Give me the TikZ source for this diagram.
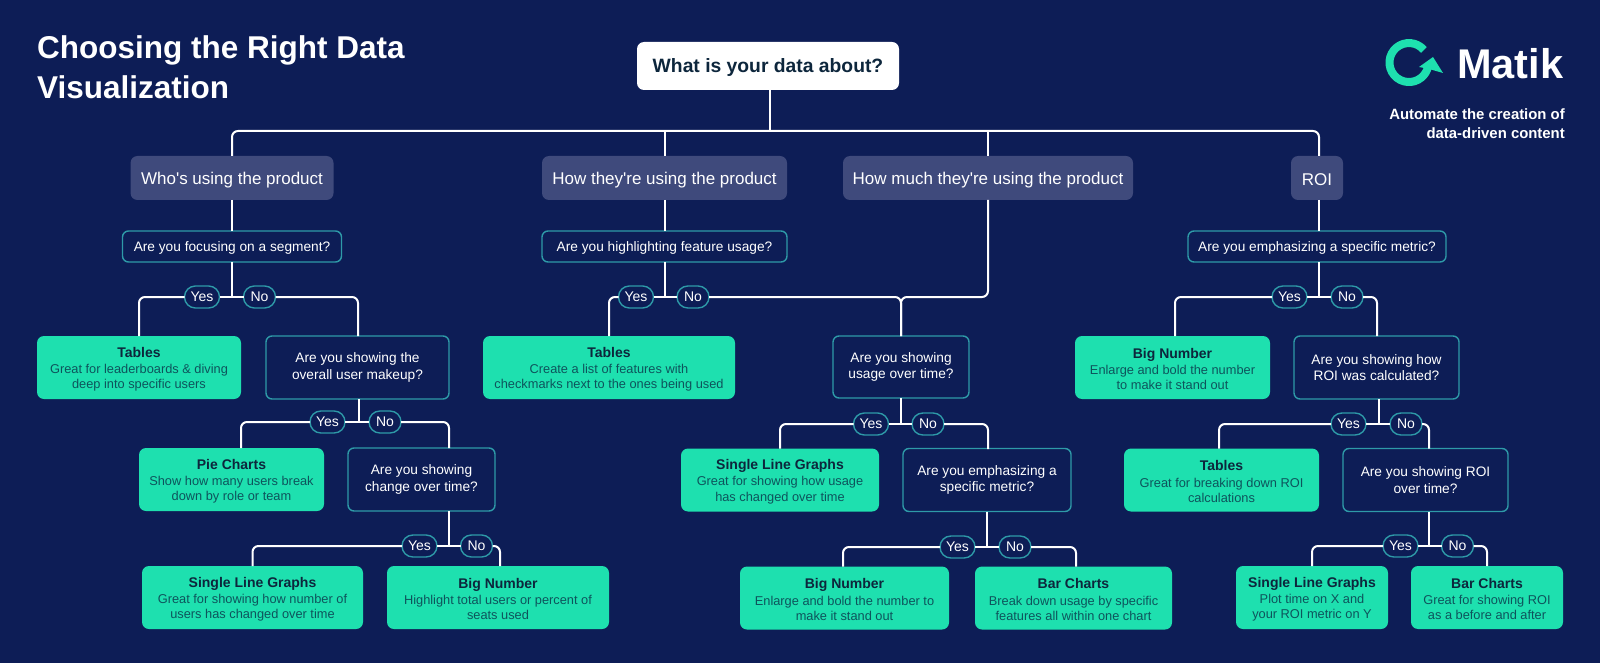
\documentclass[tikz,border=0pt]{standalone}
\usepackage{fontspec}
\setmainfont{Liberation Sans}
\begin{document}
\begin{tikzpicture}[x=1pt,y=-1pt,line join=round]
	\definecolor{navyblue}{RGB}{13,29,86}
	\definecolor{slateblue}{RGB}{63,74,124}
	\definecolor{mintgreen}{RGB}{30,224,175}
	\definecolor{tealline}{RGB}{46,154,168}
	\definecolor{darkink}{RGB}{13,38,60}
	\definecolor{tealink}{RGB}{14,84,92}
	\def\hd#1{{\fontsize{14}{17}\selectfont\bfseries\color{darkink}\rule{0pt}{13.5pt}#1}\\[1pt]}
	\tikzset{
		link/.style={draw=white,line width=2pt,rounded corners=6pt},
		rootbox/.style={fill=white,text=darkink,rounded corners=7pt,outer sep=0pt,execute at begin node={\rule{0pt}{18pt}},font=\fontsize{19.3}{24}\selectfont\bfseries},
		topic/.style={fill=slateblue,text=white,rounded corners=7pt,outer sep=0pt,minimum height=44pt,execute at begin node={\rule{0pt}{16pt}},font=\fontsize{17}{20}\selectfont},
		ask/.style={draw=tealline,line width=1.4pt,fill=navyblue,text=white,rounded corners=6pt,outer sep=0pt,align=center,execute at begin node={\rule{0pt}{13.5pt}},font=\fontsize{13.7}{16.5}\selectfont},
		answer/.style={fill=mintgreen,text=tealink,rounded corners=7pt,outer sep=0pt,align=center,minimum height=63pt,font=\fontsize{12.8}{15.2}\selectfont},
		pill/.style={draw=tealline,line width=1.4pt,fill=navyblue,text=white,rounded corners=10.9pt,outer sep=0pt,inner sep=0pt,minimum height=22pt,font=\fontsize{14}{16}\selectfont},
		yes/.style={pill,minimum width=35pt},
		no/.style={pill,minimum width=32pt}
	}
	\fill[navyblue] (0,0) rectangle (1600,663);
	
	%%%%%%%%%%%%%%%%%% heading and logo
	\node[anchor=north west,inner sep=0pt,align=left,text=white,font=\fontsize{31.5}{40}\selectfont\bfseries] (headline) at (37,35.5) {Choosing the Right Data\\Visualization};
	\draw[mintgreen,line width=8pt] (1423.9,50) arc[start angle=40,end angle=345,radius=19.5pt];
	\fill[mintgreen] (1419,67)--(1433,57)--(1443,73)--(1429,69)--cycle;
	\node[anchor=base west,inner sep=0pt,text=white,font=\fontsize{41.5}{46}\selectfont\bfseries] (brand) at (1457,79) {Matik};
	\node[anchor=north east,inner sep=0pt,align=right,text=white,font=\fontsize{14.9}{19}\selectfont\bfseries] (slogan) at (1565,109) {Automate the creation of\\data-driven content};
	
	%%%%%%%%%%%%%%%%%% first rows
	\node[rootbox,minimum width=262pt,minimum height=48pt] (root) at (768,66) {What is your data about?};
	\node[topic,minimum width=203pt] (who) at (232,178) {Who\textquotesingle s using the product};
	\node[topic,minimum width=245pt] (how) at (664.5,178) {How they\textquotesingle re using the product};
	\node[topic,minimum width=290pt] (much) at (988,178) {How much they\textquotesingle re using the product};
	\node[topic,minimum width=52pt] (roi) at (1317,178) {ROI};
	\coordinate (bus) at (770,131);
	\coordinate (dropRoi) at (1319,156);
	\draw[link] (root.south -| bus)--(bus);
	\draw[link] (who.north) |- (bus) -| (dropRoi);
	\draw[link] (how.north) -- (how.north |- bus);
	\draw[link] (much.north) -- (much.north |- bus);
	
	%%%%%%%%%%%%%%%%%% who
	\node[ask,minimum width=219pt,minimum height=31pt] (askSegment) at (232,246.5) {Are you focusing on a segment?};
	\draw[link] (who.south)--(askSegment.north);
	\node[yes] (yesSegment) at (202,297) {Yes};
	\node[no] (noSegment) at (259.5,297) {No};
	\coordinate (forkSegment) at (232,297);
	\draw[link] (askSegment.south)--(forkSegment);
	\draw[link] (yesSegment.east)--(noSegment.west);
	\node[answer,minimum width=204pt] (tablesUsers) at (139,367.5) {\hd{Tables}Great for leaderboards \& diving\\deep into specific users};
	\node[ask,minimum width=183pt,minimum height=63pt] (askMakeup) at (357.5,367.5) {Are you showing the\\overall user makeup?};
	\coordinate (dropMakeup) at (358,336);
	\draw[link] (yesSegment.west) -| (tablesUsers.north);
	\draw[link] (noSegment.east) -| (dropMakeup);
	
	\node[yes] (yesMakeup) at (327.5,422) {Yes};
	\node[no] (noMakeup) at (385,422) {No};
	\coordinate (forkMakeup) at (359,422);
	\draw[link] (askMakeup.south -| forkMakeup)--(forkMakeup);
	\draw[link] (yesMakeup.east)--(noMakeup.west);
	\node[answer,minimum width=185pt] (pie) at (231.5,479.5) {\hd{Pie Charts}Show how many users break\\down by role or team};
	\node[ask,minimum width=147pt,minimum height=63pt] (askChange) at (421.5,479.5) {Are you showing\\change over time?};
	\coordinate (dropPie) at (241,448);
	\coordinate (dropChange) at (449,448);
	\draw[link] (yesMakeup.west) -| (dropPie);
	\draw[link] (noMakeup.east) -| (dropChange);
	
	\node[yes] (yesChange) at (419.5,546) {Yes};
	\node[no] (noChange) at (476.5,546) {No};
	\coordinate (forkChange) at (449,546);
	\draw[link] (askChange.south -| forkChange)--(forkChange);
	\draw[link] (yesChange.east)--(noChange.west);
	\node[answer,minimum width=221pt] (singleUsers) at (252.5,597.5) {\hd{Single Line Graphs}Great for showing how number of\\users has changed over time};
	\node[answer,minimum width=222pt] (bigUsers) at (498,597.5) {\hd{Big Number}Highlight total users or percent of\\seats used};
	\coordinate (dropBigUsers) at (500,566);
	\draw[link] (yesChange.west) -| (singleUsers.north);
	\draw[link] (noChange.east) -| (dropBigUsers);
	
	%%%%%%%%%%%%%%%%%% how
	\node[ask,minimum width=245pt,minimum height=31pt] (askFeature) at (664.5,246.5) {Are you highlighting feature usage?};
	\draw[link] (how.south)--(askFeature.north);
	\node[yes] (yesFeature) at (636,297) {Yes};
	\node[no] (noFeature) at (693,297) {No};
	\coordinate (forkFeature) at (665,297);
	\draw[link] (askFeature.south -| forkFeature)--(forkFeature);
	\draw[link] (yesFeature.east)--(noFeature.west);
	\node[answer,minimum width=252pt] (tablesFeature) at (609,367.5) {\hd{Tables}Create a list of features with\\checkmarks next to the ones being used};
	\draw[link] (yesFeature.west) -| (tablesFeature.north);
	
	%%%%%%%%%%%%%%%%%% how much
	\node[ask,minimum width=136pt,minimum height=62pt] (askUsage) at (901,367) {Are you showing\\usage over time?};
	\coordinate (mergeUsage) at (901,297);
	\draw[link] (noFeature.east)--(mergeUsage)--(askUsage.north);
	\draw[link] (much.south) |- (mergeUsage)--(askUsage.north);
	\node[yes] (yesUsage) at (871,424) {Yes};
	\node[no] (noUsage) at (928,424) {No};
	\coordinate (forkUsage) at (901,424);
	\draw[link] (askUsage.south)--(forkUsage);
	\draw[link] (yesUsage.east)--(noUsage.west);
	\node[answer,minimum width=198pt] (singleUsage) at (780,480) {\hd{Single Line Graphs}Great for showing how usage\\has changed over time};
	\node[ask,minimum width=168pt,minimum height=63pt] (askMetric) at (987,480) {Are you emphasizing a\\specific metric?};
	\coordinate (dropMetric) at (988,449);
	\draw[link] (yesUsage.west) -| (singleUsage.north);
	\draw[link] (noUsage.east) -| (dropMetric);
	
	\node[yes] (yesMetric) at (957.5,547) {Yes};
	\node[no] (noMetric) at (1015,547) {No};
	\coordinate (forkMetric) at (987,547);
	\draw[link] (askMetric.south)--(forkMetric);
	\draw[link] (yesMetric.east)--(noMetric.west);
	\node[answer,minimum width=209pt] (bigUsage) at (844.5,598) {\hd{Big Number}Enlarge and bold the number to\\make it stand out};
	\node[answer,minimum width=197pt] (barUsage) at (1073.5,598) {\hd{Bar Charts}Break down usage by specific\\features all within one chart};
	\coordinate (dropBigUsage) at (843,566.5);
	\coordinate (dropBarUsage) at (1076,566.5);
	\draw[link] (yesMetric.west) -| (dropBigUsage);
	\draw[link] (noMetric.east) -| (dropBarUsage);
	
	%%%%%%%%%%%%%%%%%% roi
	\node[ask,minimum width=258pt,minimum height=31pt] (askRoi) at (1317,246.5) {Are you emphasizing a specific metric?};
	\coordinate (forkRoi) at (1319,297);
	\draw[link] (roi.south -| forkRoi)--(askRoi.north -| forkRoi);
	\node[yes] (yesRoi) at (1289.5,297) {Yes};
	\node[no] (noRoi) at (1347,297) {No};
	\draw[link] (askRoi.south -| forkRoi)--(forkRoi);
	\draw[link] (yesRoi.east)--(noRoi.west);
	\node[answer,minimum width=195pt] (bigRoi) at (1172.5,367.5) {\hd{Big Number}Enlarge and bold the number\\to make it stand out};
	\node[ask,minimum width=165pt,minimum height=63pt] (askCalc) at (1376.5,367.5) {Are you showing how\\ROI was calculated?};
	\coordinate (dropBigRoi) at (1175,336);
	\coordinate (dropCalc) at (1377,336);
	\draw[link] (yesRoi.west) -| (dropBigRoi);
	\draw[link] (noRoi.east) -| (dropCalc);
	
	\node[yes] (yesCalc) at (1348.5,424) {Yes};
	\node[no] (noCalc) at (1406,424) {No};
	\coordinate (forkCalc) at (1379,424);
	\draw[link] (askCalc.south -| forkCalc)--(forkCalc);
	\draw[link] (yesCalc.east)--(noCalc.west);
	\node[answer,minimum width=195pt] (tablesRoi) at (1221.5,480) {\hd{Tables}Great for breaking down ROI\\calculations};
	\node[ask,minimum width=165pt,minimum height=63pt] (askOver) at (1425.5,480) {Are you showing ROI\\over time?};
	\coordinate (dropTablesRoi) at (1219,448.5);
	\coordinate (dropOver) at (1429,448.5);
	\draw[link] (yesCalc.west) -| (dropTablesRoi);
	\draw[link] (noCalc.east) -| (dropOver);
	
	\node[yes] (yesOver) at (1400.5,546) {Yes};
	\node[no] (noOver) at (1457.5,546) {No};
	\coordinate (forkOver) at (1429,546);
	\draw[link] (askOver.south -| forkOver)--(forkOver);
	\draw[link] (yesOver.east)--(noOver.west);
	\node[answer,minimum width=152pt] (singleRoi) at (1312,597.5) {\hd{Single Line Graphs}Plot time on X and\\your ROI metric on Y};
	\node[answer,minimum width=152pt] (barRoi) at (1487,597.5) {\hd{Bar Charts}Great for showing ROI\\as a before and after};
	\draw[link] (yesOver.west) -| (singleRoi.north);
	\draw[link] (noOver.east) -| (barRoi.north);
\end{tikzpicture}
\end{document}
